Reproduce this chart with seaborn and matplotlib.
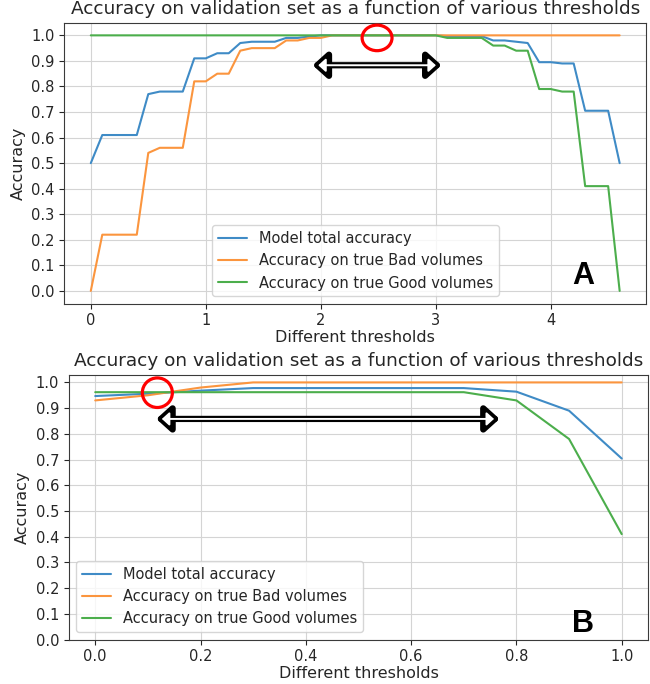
"""Validation accuracy versus decision threshold, two panels (A and B)."""
import matplotlib
matplotlib.use("Agg")
import matplotlib.pyplot as plt
from matplotlib.patches import Ellipse
import seaborn as sns
import pandas as pd
import numpy as np

# %%
# Panel A data: thresholds 0.0 .. 4.6
thr_a = [0.0, 0.1, 0.2, 0.3, 0.4, 0.5, 0.6, 0.7, 0.8, 0.9,
         1.0, 1.1, 1.2, 1.3, 1.4, 1.5, 1.6, 1.7, 1.8, 1.9,
         2.0, 2.1, 2.2, 2.3, 2.4, 2.5, 2.6, 2.7, 2.8, 2.9,
         3.0, 3.1, 3.2, 3.3, 3.4, 3.5, 3.6, 3.7, 3.8, 3.9,
         4.0, 4.1, 4.2, 4.3, 4.4, 4.5, 4.6]
total_a = [0.50, 0.61, 0.61, 0.61, 0.61, 0.77, 0.78, 0.78, 0.78, 0.91,
           0.91, 0.93, 0.93, 0.97, 0.975, 0.975, 0.975, 0.99, 0.99, 0.995,
           1.0, 1.0, 1.0, 1.0, 1.0, 1.0, 1.0, 1.0, 1.0, 1.0,
           1.0, 0.997, 0.997, 0.997, 0.997, 0.98, 0.98, 0.975, 0.97, 0.895,
           0.895, 0.89, 0.89, 0.705, 0.705, 0.705, 0.50]
bad_a = [0.0, 0.22, 0.22, 0.22, 0.22, 0.54, 0.56, 0.56, 0.56, 0.82,
         0.82, 0.85, 0.85, 0.94, 0.95, 0.95, 0.95, 0.98, 0.98, 0.99,
         0.99, 1.0, 1.0, 1.0, 1.0, 1.0, 1.0, 1.0, 1.0, 1.0,
         1.0, 1.0, 1.0, 1.0, 1.0, 1.0, 1.0, 1.0, 1.0, 1.0,
         1.0, 1.0, 1.0, 1.0, 1.0, 1.0, 1.0]
good_a = [1.0, 1.0, 1.0, 1.0, 1.0, 1.0, 1.0, 1.0, 1.0, 1.0,
          1.0, 1.0, 1.0, 1.0, 1.0, 1.0, 1.0, 1.0, 1.0, 1.0,
          1.0, 1.0, 1.0, 1.0, 1.0, 1.0, 1.0, 1.0, 1.0, 1.0,
          1.0, 0.99, 0.99, 0.99, 0.99, 0.96, 0.96, 0.94, 0.94, 0.79,
          0.79, 0.78, 0.78, 0.41, 0.41, 0.41, 0.0]

# Panel B data: thresholds 0.0 .. 1.0
thr_b = [0.0, 0.1, 0.2, 0.3, 0.4, 0.5, 0.6, 0.7, 0.8, 0.9, 1.0]
total_b = [0.947, 0.956, 0.968, 0.978, 0.978, 0.978, 0.978, 0.978, 0.964, 0.89, 0.704]
bad_b = [0.93, 0.95, 0.98, 1.0, 1.0, 1.0, 1.0, 1.0, 1.0, 1.0, 1.0]
good_b = [0.962, 0.962, 0.962, 0.962, 0.962, 0.962, 0.962, 0.962, 0.93, 0.78, 0.41]

series_names = ['Model total accuracy',
                'Accuracy on true Bad volumes',
                'Accuracy on true Good volumes']
title = 'Accuracy on validation set as a function of various thresholds'

# %%
sns.set_style("ticks", {"axes.grid": True, "grid.color": "#d4d4d4",
                        "axes.edgecolor": "#3a3a3a"})
plt.rcParams['font.family'] = ['DejaVu Sans']
plt.rcParams['text.color'] = '#262626'
plt.rcParams['axes.labelcolor'] = '#262626'
plt.rcParams['xtick.color'] = '#262626'
plt.rcParams['ytick.color'] = '#262626'

# slightly washed-out tab10 colours, like the screenshot
palette = ['#3f8bc6', '#fb953e', '#4cae4c']


def long_df(thr, total, bad, good):
    parts = []
    for name, vals in zip(series_names, [total, bad, good]):
        parts.append(pd.DataFrame({'threshold': thr, 'accuracy': vals, 'series': name}))
    return pd.concat(parts, ignore_index=True)


def hollow_arrow(ax, x0, x1, y):
    # black outer arrow, then a white inner one to make it look hollow
    ax.annotate('', xy=(x1, y), xytext=(x0, y),
                arrowprops=dict(arrowstyle='<|-|>,head_width=0.38,head_length=0.42',
                                mutation_scale=20, lw=4.5, color='black',
                                shrinkA=0, shrinkB=0), zorder=6)
    ax.annotate('', xy=(x1, y), xytext=(x0, y),
                arrowprops=dict(arrowstyle='<|-|>,head_width=0.2,head_length=0.22',
                                mutation_scale=20, lw=1.4, color='white',
                                shrinkA=4, shrinkB=4), zorder=7)


def draw_panel(ax, df, loc):
    sns.lineplot(data=df, x='threshold', y='accuracy', hue='series',
                 palette=palette, linewidth=1.5, ax=ax)
    ax.set_title(title, fontsize=13.3)
    ax.set_xlabel('Different thresholds', fontsize=11.5, labelpad=1)
    ax.set_ylabel('Accuracy', fontsize=11.5)
    ax.tick_params(labelsize=10.5)
    ax.legend(loc=loc, fontsize=10.5, framealpha=0.8, edgecolor='#cccccc')


fig = plt.figure(figsize=(6.5, 6.84), dpi=100)

# %%
# Panel A
ax_a = fig.add_axes([0.099, 0.556, 0.895, 0.411])
draw_panel(ax_a, long_df(thr_a, total_a, bad_a, good_a), 'lower center')
ax_a.set_yticks(np.arange(0, 1.01, 0.1))
hollow_arrow(ax_a, 1.93, 3.05, 0.883)
ax_a.add_patch(Ellipse((2.49, 0.99), 0.26, 0.10, fill=False, edgecolor='red',
                       lw=2.3, zorder=8))
ax_a.text(0.892, 0.10, 'A', transform=ax_a.transAxes, fontsize=22,
          fontweight='bold', family='Liberation Sans', color='black',
          ha='center', va='center')

# %%
# Panel B
ax_b = fig.add_axes([0.106, 0.065, 0.891, 0.387])
draw_panel(ax_b, long_df(thr_b, total_b, bad_b, good_b), 'lower left')
ax_b.set_ylim(bottom=0)
ax_b.set_yticks(np.arange(0, 1.01, 0.1))
hollow_arrow(ax_b, 0.116, 0.768, 0.858)
ax_b.add_patch(Ellipse((0.118, 0.96), 0.057, 0.115, fill=False, edgecolor='red',
                       lw=2.3, zorder=8))
ax_b.text(0.888, 0.06, 'B', transform=ax_b.transAxes, fontsize=22,
          fontweight='bold', family='Liberation Sans', color='black',
          ha='center', va='center')

plt.savefig('out.png', dpi=100)
